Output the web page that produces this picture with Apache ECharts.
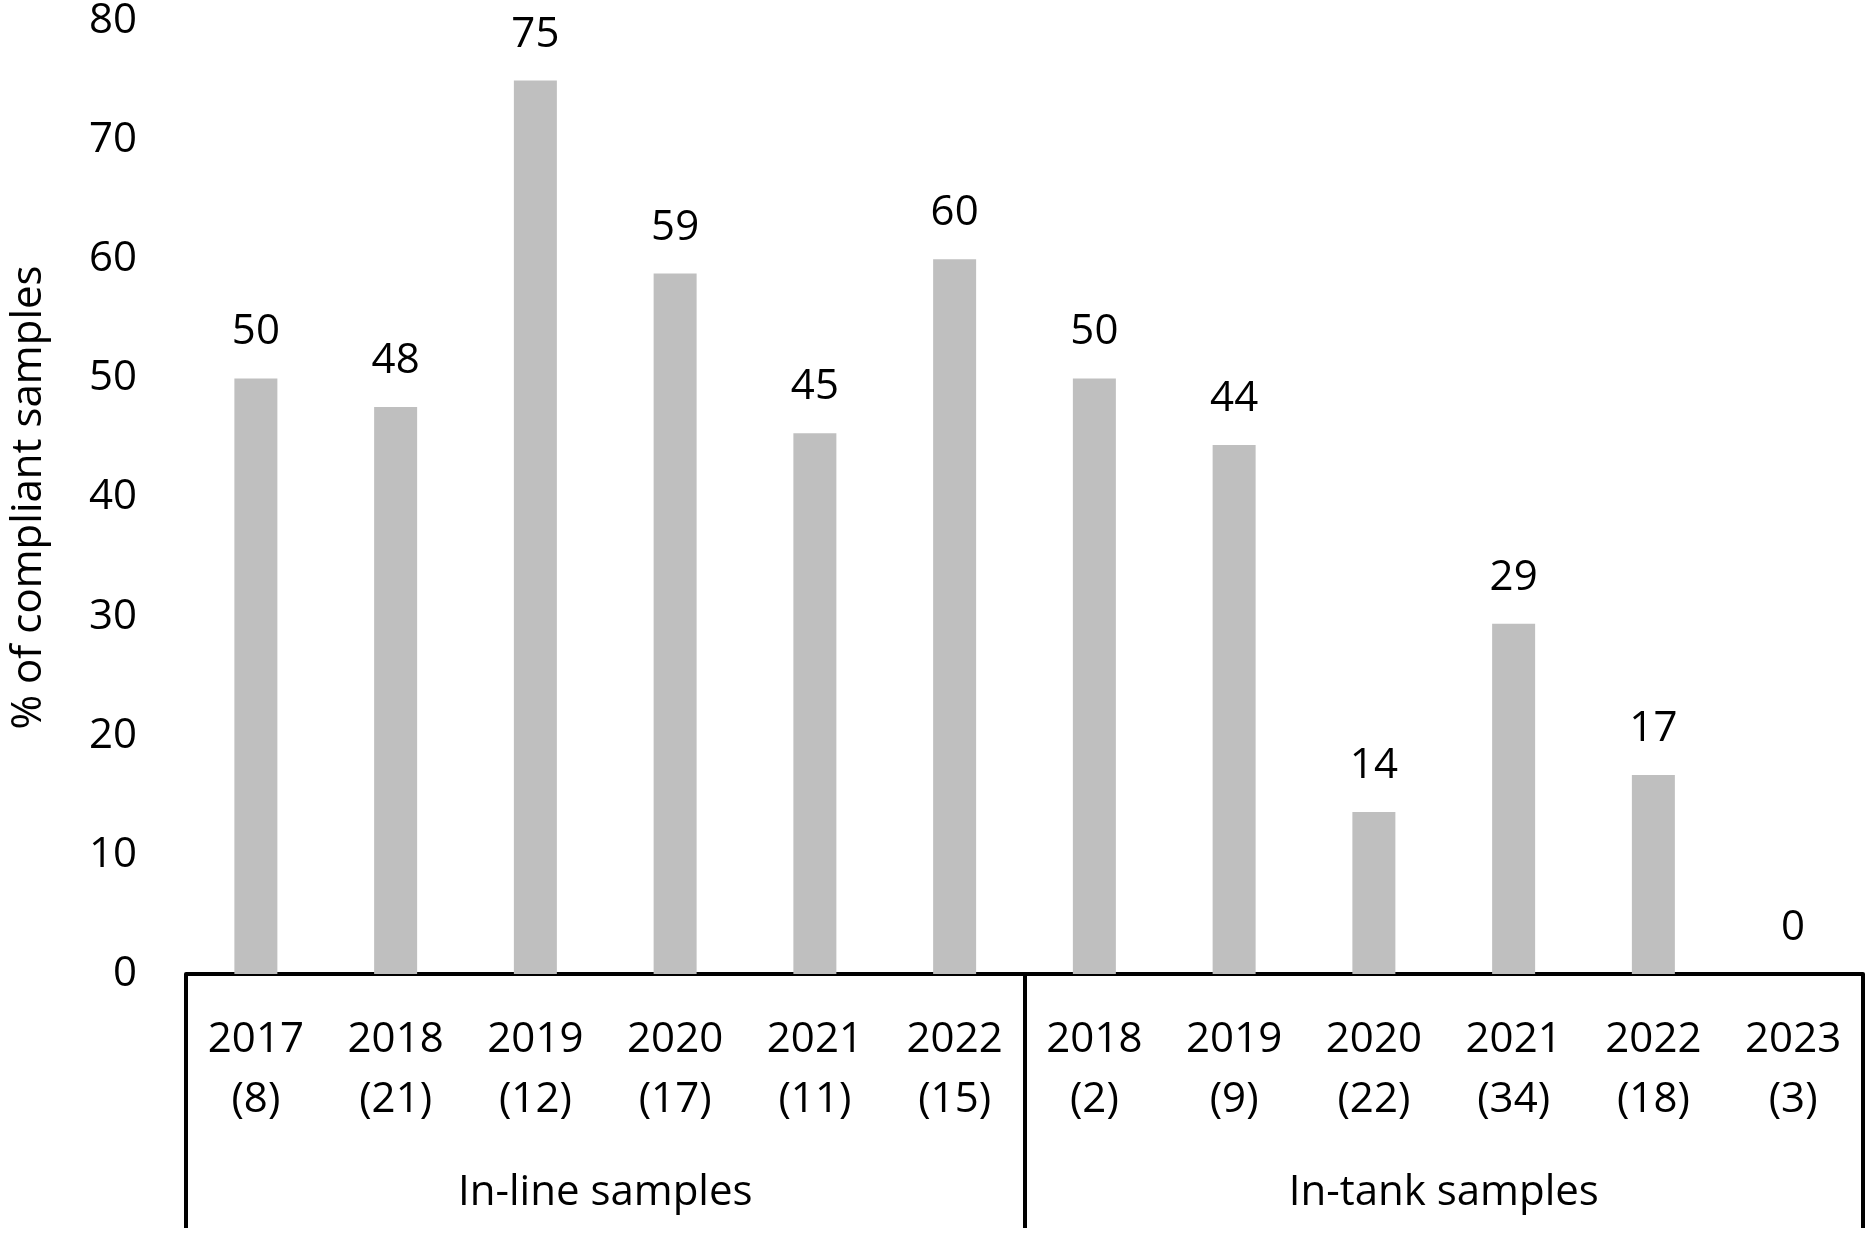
<!DOCTYPE html>
<html>
<head>
<meta charset="utf-8">
<script src="https://cdn.jsdelivr.net/npm/echarts@6/dist/echarts.min.js"></script>
<style>
  html, body { margin: 0; padding: 0; background: #fff; }
  #container { width: 1870px; height: 1233px; }
</style>
</head>
<body>
<div id="container"></div>
<script>
// data
var years = ['2017', '2018', '2019', '2020', '2021', '2022', '2018', '2019', '2020', '2021', '2022', '2023'];
var counts = [8, 21, 12, 17, 11, 15, 2, 9, 22, 34, 18, 3];
var compliant = [50, 47.6, 75, 58.8, 45.4, 60, 50, 44.4, 13.6, 29.4, 16.7, 0];
var groups = ['In-line samples', 'In-tank samples'];

var font = 'Open Sans';
var labels = [];
for (var i in years) {
  labels.push(years[i] + '\n(' + counts[i] + ')');
}

var chart = echarts.init(document.getElementById('container'));
var option = {
  animation: false,
  backgroundColor: '#fff',
  textStyle: { fontFamily: font, color: '#000' },
  grid: {
    left: 162,
    right: 7,
    top: 20,
    bottom: 259,
    containLabel: false
  },
  xAxis: [{
    type: 'category',
    data: labels,
    axisLine: { show: true, lineStyle: { color: '#000', width: 4 } },
    axisTick: { show: false },
    axisLabel: {
      interval: 0,
      margin: 36,
      fontSize: 42,
      lineHeight: 60,
      color: '#000',
      fontFamily: font
    }
  }, {
    type: 'category',
    data: groups,
    position: 'bottom',
    axisLine: { show: false },
    axisTick: {
      show: true,
      interval: 0,
      length: 254,
      lineStyle: { color: '#000', width: 4 }
    },
    axisLabel: {
      interval: 0,
      margin: 198,
      fontSize: 42,
      color: '#000',
      fontFamily: font
    }
  }],
  yAxis: {
    type: 'value',
    min: 0,
    max: 80,
    interval: 10,
    name: '% of compliant samples',
    nameLocation: 'middle',
    nameGap: 136,
    nameTextStyle: { fontSize: 42, color: '#000', fontFamily: font },
    axisLine: { show: false },
    axisTick: { show: false },
    splitLine: { show: false },
    axisLabel: { fontSize: 42, margin: 49, color: '#000', fontFamily: font }
  },
  series: [{
    type: 'bar',
    data: compliant,
    barWidth: 43,
    itemStyle: { color: '#bfbfbf' },
    label: {
      show: true,
      position: 'top',
      distance: 25,
      fontSize: 42,
      color: '#000',
      fontFamily: font,
      formatter: function (p) { return Math.round(p.value); }
    }
  }]
};
chart.setOption(option);
</script>
</body>
</html>
